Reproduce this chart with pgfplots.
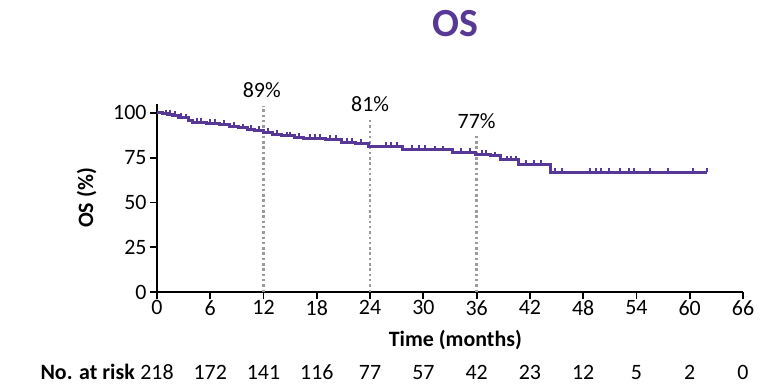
\documentclass[border=0pt]{standalone}
\usepackage{fontspec}
\setmainfont{Carlito}
\usepackage{pgfplots}
\pgfplotsset{compat=1.18}

\definecolor{ospurple}{RGB}{88,56,150}
\definecolor{refgray}{RGB}{155,155,155}

\newcommand{\lbl}{\fontsize{22}{24}\selectfont}

\begin{document}
\begin{tikzpicture}
\useasboundingbox (-157bp,-93bp) rectangle (623bp,292bp);
\begin{axis}[
  scale only axis,
  width=586bp, height=188bp,
  xmin=0, xmax=66, ymin=0, ymax=105,
  axis lines=left,
  axis line style={-, line width=1.8bp, black},
  xtick={0,6,...,66}, ytick={0,25,50,75,100},
  tick style={black, line width=1.8bp},
  tick align=outside, major tick length=7bp,
  tick label style={font=\lbl},
  xticklabel style={yshift=2bp},
  /pgf/number format/assume math mode=true,
  clip=false,
]
% reference lines at 12, 24 and 36 months
\pgfplotsset{refline/.style={refgray, line width=2.5bp, dash pattern=on 2.5bp off 2.8bp}}
\addplot[refline] coordinates {(12,0) (12,104)};
\addplot[refline] coordinates {(24,0) (24,97.2)};
\addplot[refline] coordinates {(36,0) (36,88.7)};

% Kaplan-Meier estimate
\addplot[const plot, ospurple, line width=3bp] coordinates {
 (0,100) (0.6,99.5) (1.2,99.1) (1.8,98.6) (2.4,97.7) (3.0,97.2) (3.6,95.9)
 (4.0,94.6) (5.6,94.2) (7.0,93.6) (8.2,92.6) (9.2,91.7) (10.2,90.8) (11.0,90.2)
 (12.0,89.0) (13.0,88.1) (14.0,87.2) (15.5,86.5) (16.5,85.7) (19.0,85.2)
 (20.8,83.6) (22.4,83.0) (23.8,81.3) (27.6,79.8) (30.6,79.4) (33.3,78.1)
 (35.9,76.8) (37.6,76.1) (38.7,73.8) (40.7,71.1) (44.3,67.0) (62.0,67.0)
};

% censored observations
\addplot[only marks, ospurple, mark=|, mark size=2bp, line width=2bp,
  mark options={yshift=2.2bp}] coordinates {
 (1.0,99.5) (1.5,99.1) (2.0,98.6) (2.7,97.7) (3.3,97.2) (4.5,94.6) (5.0,94.6)
 (6.0,94.2) (6.5,94.2) (7.6,93.6) (8.7,92.6) (9.7,91.7) (10.6,90.8) (11.5,90.2)
 (12.5,89.0) (13.5,88.1) (14.6,87.2) (15.0,87.2) (16.0,86.5) (17.2,85.7)
 (17.8,85.7) (18.4,85.7) (19.5,85.2) (20.2,85.2) (21.4,83.6) (22.0,83.6)
 (23.0,83.0) (25.8,81.3) (26.4,81.3) (27.0,81.3) (28.7,79.8) (29.5,79.8)
 (30.2,79.8) (31.3,79.4) (32.2,79.4) (34.2,78.1) (35.2,78.1) (36.6,76.8)
 (37.0,76.8) (38.1,76.1) (39.4,73.8) (39.9,73.8) (40.4,73.8) (41.6,71.1)
 (42.5,71.1) (43.3,71.1) (44.8,67.0) (45.6,67.0) (48.8,67.0) (49.4,67.0)
 (50.0,67.0) (50.9,67.0) (52.1,67.0) (53.2,67.0) (53.7,67.0) (55.5,67.0)
 (57.5,67.0) (60.4,67.0) (62.0,67.0)
};

% landmark survival estimates
\node[anchor=base, font=\lbl] at (axis cs:11.8,108.4) {89\%};
\node[anchor=base, font=\lbl] at (axis cs:24,100.6) {81\%};
\node[anchor=base, font=\lbl] at (axis cs:36,91.5) {77\%};

% title and axis labels
\node[anchor=base, font=\fontsize{40}{44}\selectfont\bfseries, text=ospurple]
  at (axis cs:33.6,142.7) {OS};
\node[anchor=base, font=\lbl\bfseries] at (axis cs:33.6,-30.2) {Time (months)};
\node[anchor=base, rotate=90, font=\lbl\bfseries] at (axis cs:-7.2,52.5) {OS (\%)};

% number at risk
\node[anchor=base east, font=\lbl\bfseries] at (axis cs:-2.1,-48.6) {No. at risk};
\node[anchor=base, font=\lbl] at (axis cs:0,-48.6) {218};
\node[anchor=base, font=\lbl] at (axis cs:6,-48.6) {172};
\node[anchor=base, font=\lbl] at (axis cs:12,-48.6) {141};
\node[anchor=base, font=\lbl] at (axis cs:18,-48.6) {116};
\node[anchor=base, font=\lbl] at (axis cs:24,-48.6) {77};
\node[anchor=base, font=\lbl] at (axis cs:30,-48.6) {57};
\node[anchor=base, font=\lbl] at (axis cs:36,-48.6) {42};
\node[anchor=base, font=\lbl] at (axis cs:42,-48.6) {23};
\node[anchor=base, font=\lbl] at (axis cs:48,-48.6) {12};
\node[anchor=base, font=\lbl] at (axis cs:54,-48.6) {5};
\node[anchor=base, font=\lbl] at (axis cs:60,-48.6) {2};
\node[anchor=base, font=\lbl] at (axis cs:66,-48.6) {0};
\end{axis}
\end{tikzpicture}
\end{document}
